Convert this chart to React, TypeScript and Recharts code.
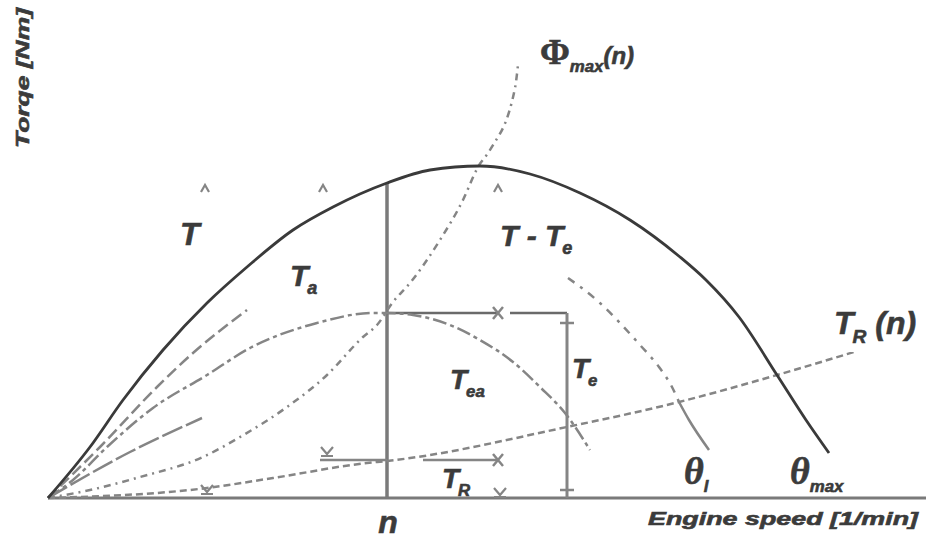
import React from 'react';
import { ComposedChart, Line, XAxis, YAxis, ReferenceLine, ReferenceDot, Scatter } from 'recharts';

// Units: engine speed (x) and torque (y), origin at the lower-left corner of the curves.
const T_MAX = [
  { x: 0, y: 0 }, { x: 42, y: 51 }, { x: 75, y: 98 }, { x: 115, y: 148 }, { x: 159, y: 195 },
  { x: 199, y: 231 }, { x: 245, y: 268 }, { x: 285, y: 291 }, { x: 339, y: 315 }, { x: 382, y: 328 },
  { x: 432, y: 332 }, { x: 482, y: 324 }, { x: 532, y: 305 }, { x: 582, y: 278 }, { x: 632, y: 241 },
  { x: 658, y: 218 }, { x: 691, y: 181 }, { x: 729, y: 123 }, { x: 758, y: 78 }, { x: 781, y: 45 },
];
const DASH_A = [
  { x: 0, y: 0 }, { x: 52, y: 51 }, { x: 109, y: 111 }, { x: 145, y: 145 }, { x: 199, y: 188 },
];
const T_A = [
  { x: 0, y: 0 }, { x: 25, y: 18 }, { x: 59, y: 51 }, { x: 105, y: 90 }, { x: 159, y: 123 },
  { x: 202, y: 150 }, { x: 269, y: 175 }, { x: 325, y: 185 }, { x: 339, y: 185 }, { x: 365, y: 183 },
  { x: 402, y: 173 }, { x: 432, y: 158 }, { x: 465, y: 136 }, { x: 492, y: 111 }, { x: 517, y: 85 },
  { x: 542, y: 48 },
];
const DASH_B = [{ x: 0, y: 0 }, { x: 82, y: 46 }, { x: 154, y: 80 }];
const PHI_MAX = [
  { x: 0, y: 0 }, { x: 42, y: 8 }, { x: 92, y: 21 }, { x: 155, y: 41 }, { x: 192, y: 61 },
  { x: 239, y: 91 }, { x: 279, y: 123 }, { x: 315, y: 161 }, { x: 329, y: 173 }, { x: 345, y: 196 },
  { x: 362, y: 215 }, { x: 392, y: 258 }, { x: 415, y: 298 }, { x: 430, y: 331 }, { x: 442, y: 348 },
  { x: 467, y: 410 }, { x: 470, y: 433 },
];
const T_R = [
  { x: 0, y: 0 }, { x: 159, y: 10 }, { x: 225, y: 20 }, { x: 319, y: 35 }, { x: 339, y: 37 },
  { x: 519, y: 71 }, { x: 631, y: 96 }, { x: 729, y: 123 }, { x: 806, y: 146 },
];
const THETA_L = [
  { x: 520, y: 220 }, { x: 552, y: 195 }, { x: 572, y: 175 }, { x: 592, y: 153 }, { x: 611, y: 131 },
  { x: 624, y: 111 }, { x: 631, y: 96 },
];
const THETA_L_END = [{ x: 631, y: 96 }, { x: 641, y: 78 }, { x: 661, y: 48 }];

// operating-point construction
const N_SPEED = 339;
const N_TORQUE = 315;
const TA_AT_N = 185;
const TR_AT_N = 38;
const SPEED_E = 519;
const ARROW_TIP = 450;
const AXIS_END = 878;

const CROSS_MARKS = [{ x: 450, y: 185 }, { x: 450, y: 38 }];
const CARETS = [{ x: 157, y: 310 }, { x: 275, y: 310 }, { x: 450, y: 310 }];
const FORKS = [{ x: 279, y: 46 }, { x: 159, y: 8 }, { x: 452, y: 5 }];

const GRAY = '#858585';
const DARK = '#3a3a3a';
const TEXT = '#3b3b3b';
const SANS = '"Liberation Sans", Arial, sans-serif';
const SERIF = '"Liberation Serif", "DejaVu Serif", serif';

type Part = { t: string; sub?: boolean; serif?: boolean; size?: number; bold?: boolean; upright?: boolean; dx?: number };
type Note = { x: number; y: number; parts: Part[]; size: number; anchor?: 'start' | 'middle' | 'end'; len?: number; rotate?: boolean };

const NOTES: Note[] = [
  { x: 132, y: 253, parts: [{ t: 'T' }], size: 32 },
  { x: 242, y: 212, parts: [{ t: 'T' }, { t: 'a', sub: true, dx: -1 }], size: 30 },
  { x: 452, y: 252, parts: [{ t: 'T - T' }, { t: 'e', sub: true, dx: -1 }], size: 30 },
  { x: 402, y: 109, parts: [{ t: 'T' }, { t: 'ea', sub: true, dx: -1 }], size: 28 },
  { x: 524, y: 120, parts: [{ t: 'T' }, { t: 'e', sub: true, dx: -1 }], size: 28 },
  { x: 394, y: 10, parts: [{ t: 'T' }, { t: 'R', sub: true, dx: -1 }], size: 28 },
  { x: 340, y: -35, parts: [{ t: 'n' }], size: 32, anchor: 'middle' },
  { x: 636, y: 14, parts: [{ t: 'θ', serif: true, size: 38 }, { t: 'l', sub: true, dx: 0 }], size: 28 },
  { x: 742, y: 14, parts: [{ t: 'θ', serif: true, size: 38 }, { t: 'max', sub: true, dx: 0 }], size: 28 },
  { x: 786, y: 164, parts: [{ t: 'T' }, { t: 'R', sub: true, dx: -1 }, { t: ' (n)' }], size: 32 },
  { x: 492, y: 434, parts: [{ t: 'Φ', serif: true, upright: true, size: 36 }, { t: 'max', sub: true }, { t: '(n)', size: 24 }], size: 28 },
  { x: 600, y: -27, parts: [{ t: 'Engine speed [1/min]' }], size: 19, len: 270 },
  { x: -26, y: 420, parts: [{ t: 'Torqe [Nm]' }], size: 19, len: 140, anchor: 'middle', rotate: true },
];

function RichText(props: any) {
  const { cx, cy, note } = props as { cx: number; cy: number; note: Note };
  let sub = false;
  const spans = note.parts.map((p, i) => {
    let dy = 0;
    if (p.sub && !sub) dy = note.size * 0.28;
    if (!p.sub && sub) dy = -note.size * 0.28;
    sub = !!p.sub;
    return (
      <tspan
        key={i}
        dy={dy}
        dx={p.dx ?? 0}
        fontSize={p.sub ? note.size * 0.6 : p.size ?? note.size}
        fontFamily={p.serif ? SERIF : SANS}
        fontWeight={p.bold === false ? 'normal' : 'bold'}
        fontStyle={p.upright ? 'normal' : 'italic'}
      >
        {p.t}
      </tspan>
    );
  });
  return (
    <text
      x={cx}
      y={cy}
      fill={TEXT}
      stroke={TEXT}
      strokeWidth={0.6}
      fontStyle="italic"
      fontWeight="bold"
      fontFamily={SANS}
      fontSize={note.size}
      textAnchor={note.anchor ?? 'start'}
      textLength={note.len}
      lengthAdjust={note.len ? 'spacingAndGlyphs' : undefined}
      transform={note.rotate ? `rotate(-90 ${cx} ${cy})` : undefined}
      dominantBaseline={note.rotate ? 'central' : undefined}
    >
      {spans}
    </text>
  );
}

const CrossShape = (p: any) => (
  <path d={`M${p.cx - 5},${p.cy - 6} L${p.cx + 5},${p.cy + 6} M${p.cx + 5},${p.cy - 6} L${p.cx - 5},${p.cy + 6}`} stroke={GRAY} strokeWidth={2.5} fill="none" />
);
const CaretShape = (p: any) => (
  <path d={`M${p.cx - 4},${p.cy + 4} L${p.cx},${p.cy - 3} L${p.cx + 4},${p.cy + 4}`} stroke={GRAY} strokeWidth={2.2} fill="none" />
);
const ForkShape = (p: any) => (
  <path d={`M${p.cx - 6},${p.cy - 5} L${p.cx},${p.cy + 2} L${p.cx + 6},${p.cy - 5} M${p.cx - 6},${p.cy + 4} L${p.cx + 6},${p.cy + 4}`} stroke={GRAY} strokeWidth={2.2} fill="none" />
);

export default function App() {
  const lineProps = { dataKey: 'y', dot: false, activeDot: false, isAnimationActive: false, type: 'monotone' as const };
  return (
    <div style={{ position: 'absolute', left: 0, top: 0, width: 939, height: 541, background: '#fff' }}>
      <ComposedChart width={939} height={541} margin={{ top: 0, right: 0, bottom: 0, left: 0 }}>
        <XAxis type="number" dataKey="x" domain={[-48, 891]} hide allowDataOverflow />
        <YAxis type="number" domain={[-43, 498]} hide allowDataOverflow />

        <ReferenceLine segment={[{ x: 0, y: 0 }, { x: AXIS_END, y: 0 }]} stroke="#7a7a7a" strokeWidth={3} />
        <ReferenceLine segment={[{ x: N_SPEED, y: 0 }, { x: N_SPEED, y: N_TORQUE }]} stroke="#7a7a7a" strokeWidth={3.5} />
        <ReferenceLine segment={[{ x: N_SPEED, y: TA_AT_N }, { x: ARROW_TIP, y: TA_AT_N }]} stroke="#6a6a6a" strokeWidth={2.5} />
        <ReferenceLine segment={[{ x: 462, y: TA_AT_N }, { x: SPEED_E, y: TA_AT_N }]} stroke="#6a6a6a" strokeWidth={2.5} />
        <ReferenceLine segment={[{ x: SPEED_E, y: 0 }, { x: SPEED_E, y: TA_AT_N }]} stroke={GRAY} strokeWidth={3} />
        <ReferenceLine segment={[{ x: SPEED_E - 7, y: 175 }, { x: SPEED_E + 7, y: 175 }]} stroke={GRAY} strokeWidth={2.5} />
        <ReferenceLine segment={[{ x: SPEED_E - 7, y: 8 }, { x: SPEED_E + 7, y: 8 }]} stroke={GRAY} strokeWidth={2.5} />
        <ReferenceLine segment={[{ x: 272, y: TR_AT_N }, { x: N_SPEED, y: TR_AT_N }]} stroke={GRAY} strokeWidth={2.5} />
        <ReferenceLine segment={[{ x: 375, y: TR_AT_N }, { x: ARROW_TIP, y: TR_AT_N }]} stroke={GRAY} strokeWidth={2.5} />

        <Line {...lineProps} data={DASH_A} stroke={GRAY} strokeWidth={2.5} strokeDasharray="12 5" />
        <Line {...lineProps} data={DASH_B} stroke={GRAY} strokeWidth={2.5} strokeDasharray="22 4" />
        <Line {...lineProps} data={T_A} stroke={GRAY} strokeWidth={2.5} strokeDasharray="14 4 4 4" />
        <Line {...lineProps} data={PHI_MAX} stroke={GRAY} strokeWidth={2.5} strokeDasharray="7 5 2 5" />
        <Line {...lineProps} data={T_R} stroke={GRAY} strokeWidth={2.5} strokeDasharray="7 4" />
        <Line {...lineProps} data={THETA_L} stroke={GRAY} strokeWidth={2.5} strokeDasharray="8 7 3 7" />
        <Line {...lineProps} data={THETA_L_END} stroke={GRAY} strokeWidth={2.5} />
        <Line {...lineProps} data={T_MAX} stroke={DARK} strokeWidth={2.8} />

        <Scatter data={CROSS_MARKS} dataKey="y" shape={CrossShape} isAnimationActive={false} />
        <Scatter data={CARETS} dataKey="y" shape={CaretShape} isAnimationActive={false} />
        <Scatter data={FORKS} dataKey="y" shape={ForkShape} isAnimationActive={false} />

        {NOTES.map((n, i) => (
          <ReferenceDot key={i} x={n.x} y={n.y} r={0} shape={(p: any) => <RichText cx={p.cx} cy={p.cy} note={n} />} />
        ))}
      </ComposedChart>
    </div>
  );
}
